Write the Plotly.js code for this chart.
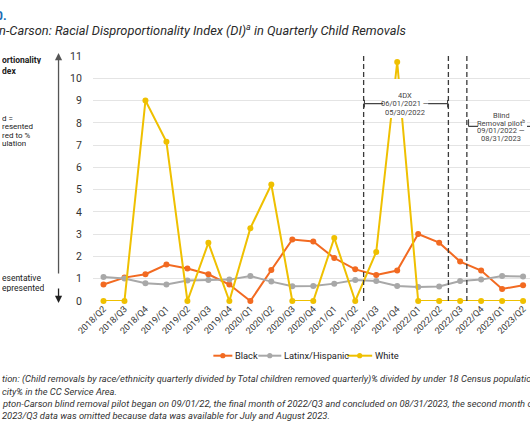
<!DOCTYPE html>
<html>
<head>
<meta charset="utf-8">
<script src="https://cdn.plot.ly/plotly-3.0.1.min.js"></script>
<style>
html,body{margin:0;padding:0;background:#fff;overflow:hidden;}
#chart{width:530px;height:442px;}
</style>
</head>
<body>
<div id="chart"></div>
<script>
// ---- data ----
var quarters = ["2018/Q2","2018/Q3","2018/Q4","2019/Q1","2019/Q2","2019/Q3","2019/Q4","2020/Q1","2020/Q2","2020/Q3","2020/Q4","2021/Q1","2021/Q2","2021/Q3","2021/Q4","2022/Q1","2022/Q2","2022/Q3","2022/Q4","2023/Q1","2023/Q2"];
var black  = [0.74,1.05,1.20,1.64,1.46,1.20,0.74,0.00,1.39,2.76,2.67,1.93,1.42,1.17,1.37,3.01,2.62,1.77,1.37,0.54,0.71];
var latinx = [1.08,1.01,0.80,0.74,0.92,0.94,0.96,1.12,0.87,0.66,0.67,0.78,0.94,0.90,0.67,0.63,0.65,0.90,0.96,1.12,1.10];
var white  = [0.00,0.00,9.00,7.15,0.00,2.61,0.00,3.27,5.23,0.00,0.00,2.83,0.00,2.20,10.73,0.00,0.00,0.00,0.00,0.00,0.00];
var seriesNames = ["Black","Latinx/Hispanic","White"];
var yTicks = [0,1,2,3,4,5,6,7,8,9,10,11];
// period markers (category-axis positions)
var fourDXStart = 12.40, fourDXEnd = 16.44, blindStart = 17.32;
var fourDXLabel = ["4DX", "06/01/2021 —", "05/30/2022"];
var blindLabel = ["Blind", "Removal pilot<sup>b</sup>", "09/01/2022 —", "08/31/2023"];

// ---- layout geometry ----
var W = 530, H = 442, ML = 92.5, MT = 56, MB = 141, MR = 0;
var PW = W - ML - MR, PH = H - MT - MB;
function px(x){ return (x - ML) / PW; }
function py(y){ return (H - MB - y) / PH; }

var FONT = "Roboto, 'Liberation Sans', sans-serif";
var colors = ["#F26A21", "#A8A8A8", "#EFC000"];
var seriesVals = [black, latinx, white];

var data = seriesNames.map(function(name, i){
  return {x: quarters, y: seriesVals[i], name: name, type: "scatter", mode: "lines+markers",
    line: {color: colors[i], width: 2}, marker: {color: colors[i], size: 6},
    cliponaxis: false, hoverinfo: "skip", showlegend: false};
});

var dashCol = "#3a3a3a";
var shapes = [];
[fourDXStart, fourDXEnd, blindStart].forEach(function(v){
  shapes.push({type:"line", xref:"x", yref:"y", x0:v, x1:v, y0:0, y1:11,
    line:{color:dashCol, width:1.3, dash:"5px,3px"}, layer:"above"});
});
var b1 = 8.86, b2 = 7.84;
shapes.push({type:"line", xref:"x", yref:"y", x0:fourDXStart, x1:fourDXEnd, y0:b1, y1:b1, line:{color:"#444", width:1.1}, layer:"above"});
shapes.push({type:"line", xref:"x", yref:"y", x0:fourDXStart+0.04, x1:fourDXStart+0.04, y0:b1-0.17, y1:b1+0.17, line:{color:"#444", width:1.1}, layer:"above"});
shapes.push({type:"line", xref:"x", yref:"y", x0:fourDXEnd-0.04, x1:fourDXEnd-0.04, y0:b1-0.17, y1:b1+0.17, line:{color:"#444", width:1.1}, layer:"above"});
shapes.push({type:"line", xref:"x", yref:"y", x0:blindStart+0.08, x1:21.5, y0:b2, y1:b2, line:{color:"#444", width:1.1}, layer:"above"});
shapes.push({type:"line", xref:"x", yref:"y", x0:blindStart+0.08, x1:blindStart+0.08, y0:b2, y1:b2+0.32, line:{color:"#444", width:1.1}, layer:"above"});
// white label boxes (cover lines behind the period labels)
function whiteBox(x0, x1, y0, y1){
  shapes.push({type:"rect", xref:"paper", yref:"paper", x0:px(x0), x1:px(x1), y0:py(y1), y1:py(y0),
    fillcolor:"#ffffff", line:{width:0}, layer:"above"});
}
whiteBox(383, 428, 79, 118);
whiteBox(478, 527, 110, 144);

var txt = "#222";
var annotations = [
  {xref:"paper", yref:"paper", x:px(8), y:py(15), xanchor:"right", yanchor:"middle", showarrow:false,
   text:"<b>Figure 10.</b>", font:{family:FONT, size:12.5, color:"#1C6DB5"}},
  {xref:"paper", yref:"paper", x:px(408), y:py(30), xanchor:"right", yanchor:"middle", showarrow:false,
   text:"<i>Compton-Carson: Racial Disproportionality Index (DI)<sup>a</sup> in Quarterly Child Removals</i>", font:{family:FONT, size:12.8, color:"#2a2a2a"}},
  {xref:"paper", yref:"paper", x:px(58), y:py(53), ax:0, ay:222, showarrow:true, text:"",
   arrowhead:2, arrowsize:1.1, arrowwidth:1.3, arrowcolor:"#555"},
  {xref:"paper", yref:"paper", x:px(58), y:py(303), ax:0, ay:-16, showarrow:true, text:"",
   arrowhead:2, arrowsize:1.1, arrowwidth:1.3, arrowcolor:"#222"}
];
function lineText(t, x, y, size, opts){
  opts = opts || {};
  var a = {xref:"paper", yref:"paper", x:px(x), y:py(y), xanchor:opts.anchor || "left", yanchor:"middle",
    showarrow:false, text:t, font:{family:FONT, size:size, color:opts.color || txt}};
  if (opts.h) { a.height = opts.h; a.borderpad = 0; }
  annotations.push(a);
}
// left-side labels (clipped by page edge)
lineText("<b>ortionality</b>", 0, 60, 8.5, {h:9});
lineText("<b>dex</b>", 0, 70.5, 8.5, {h:9});
[["d =",117.5],["resented",126],["red to %",134.5],["ulation",143]].forEach(function(a){ lineText(a[0], 0, a[1], 8, {h:8}); });
lineText("esentative", 0, 277, 8.5, {h:9});
lineText("epresented", 0, 287.3, 8.5, {h:9});
// period labels
fourDXLabel.forEach(function(t, i){ lineText(t, 405, 95 + i*8.3, 7.5, {anchor:"center", color:"#444", h:8}); });
blindLabel.forEach(function(t, i){ lineText(t, 501, 115.7 + i*7.7, 7.5, {anchor:"center", color:"#444", h:7.5}); });
// footnotes
var fn = [
  "<i>tion: (Child removals by race/ethnicity quarterly divided by Total children removed quarterly)% divided by under 18 Census population by race/</i>",
  "<i>city% in the CC Service Area.</i>",
  "<i>pton-Carson blind removal pilot began on 09/01/22, the final month of 2022/Q3 and concluded on 08/31/2023, the second month of</i>",
  "<i>2023/Q3 data was omitted because data was available for July and August 2023.</i>"
];
fn.forEach(function(t, i){ lineText(t, -1, 379 + i*12, 9.4, {color:"#333"}); });

// compact legend (line + dot + label), positions in page pixels
var legY = 355.7;
var legItems = [[213, 232, 233], [258, 281, 282], [347, 372, 373]];
legItems.forEach(function(it, i){
  shapes.push({type:"line", xref:"paper", yref:"paper", x0:px(it[0]), x1:px(it[1]), y0:py(legY), y1:py(legY),
    line:{color:colors[i], width:2}, layer:"above"});
  var cx = (it[0] + it[1]) / 2, r = 2.6;
  shapes.push({type:"circle", xref:"paper", yref:"paper", x0:px(cx - r), x1:px(cx + r), y0:py(legY + r), y1:py(legY - r),
    fillcolor:colors[i], line:{color:colors[i], width:0}, layer:"above"});
  lineText(seriesNames[i], it[2], legY, 9.3);
});

var layout = {
  width: W, height: H,
  margin: {l: ML, r: MR, t: MT, b: MB, pad: 0},
  paper_bgcolor: "#fff", plot_bgcolor: "#fff",
  font: {family: FONT, color: "#333"},
  showlegend: false,
  xaxis: {type: "category", range: [-0.5, 20.33], showgrid: false, zeroline: false, showline: false,
    tickangle: -45, tickfont: {family: FONT, size: 9, color: "#333"}, ticks: "", automargin: false, fixedrange: true},
  yaxis: {range: [0, 11], tickvals: yTicks, showgrid: true, gridcolor: "#e4e4e4", gridwidth: 1,
    zeroline: false, showline: false, ticks: "outside", ticklen: 8, tickcolor: "rgba(0,0,0,0)",
    tickfont: {family: FONT, size: 10.5, color: "#333"}, automargin: false, fixedrange: true},
  shapes: shapes,
  annotations: annotations
};

Plotly.newPlot("chart", data, layout, {displayModeBar: false, staticPlot: true});
</script>
</body>
</html>
